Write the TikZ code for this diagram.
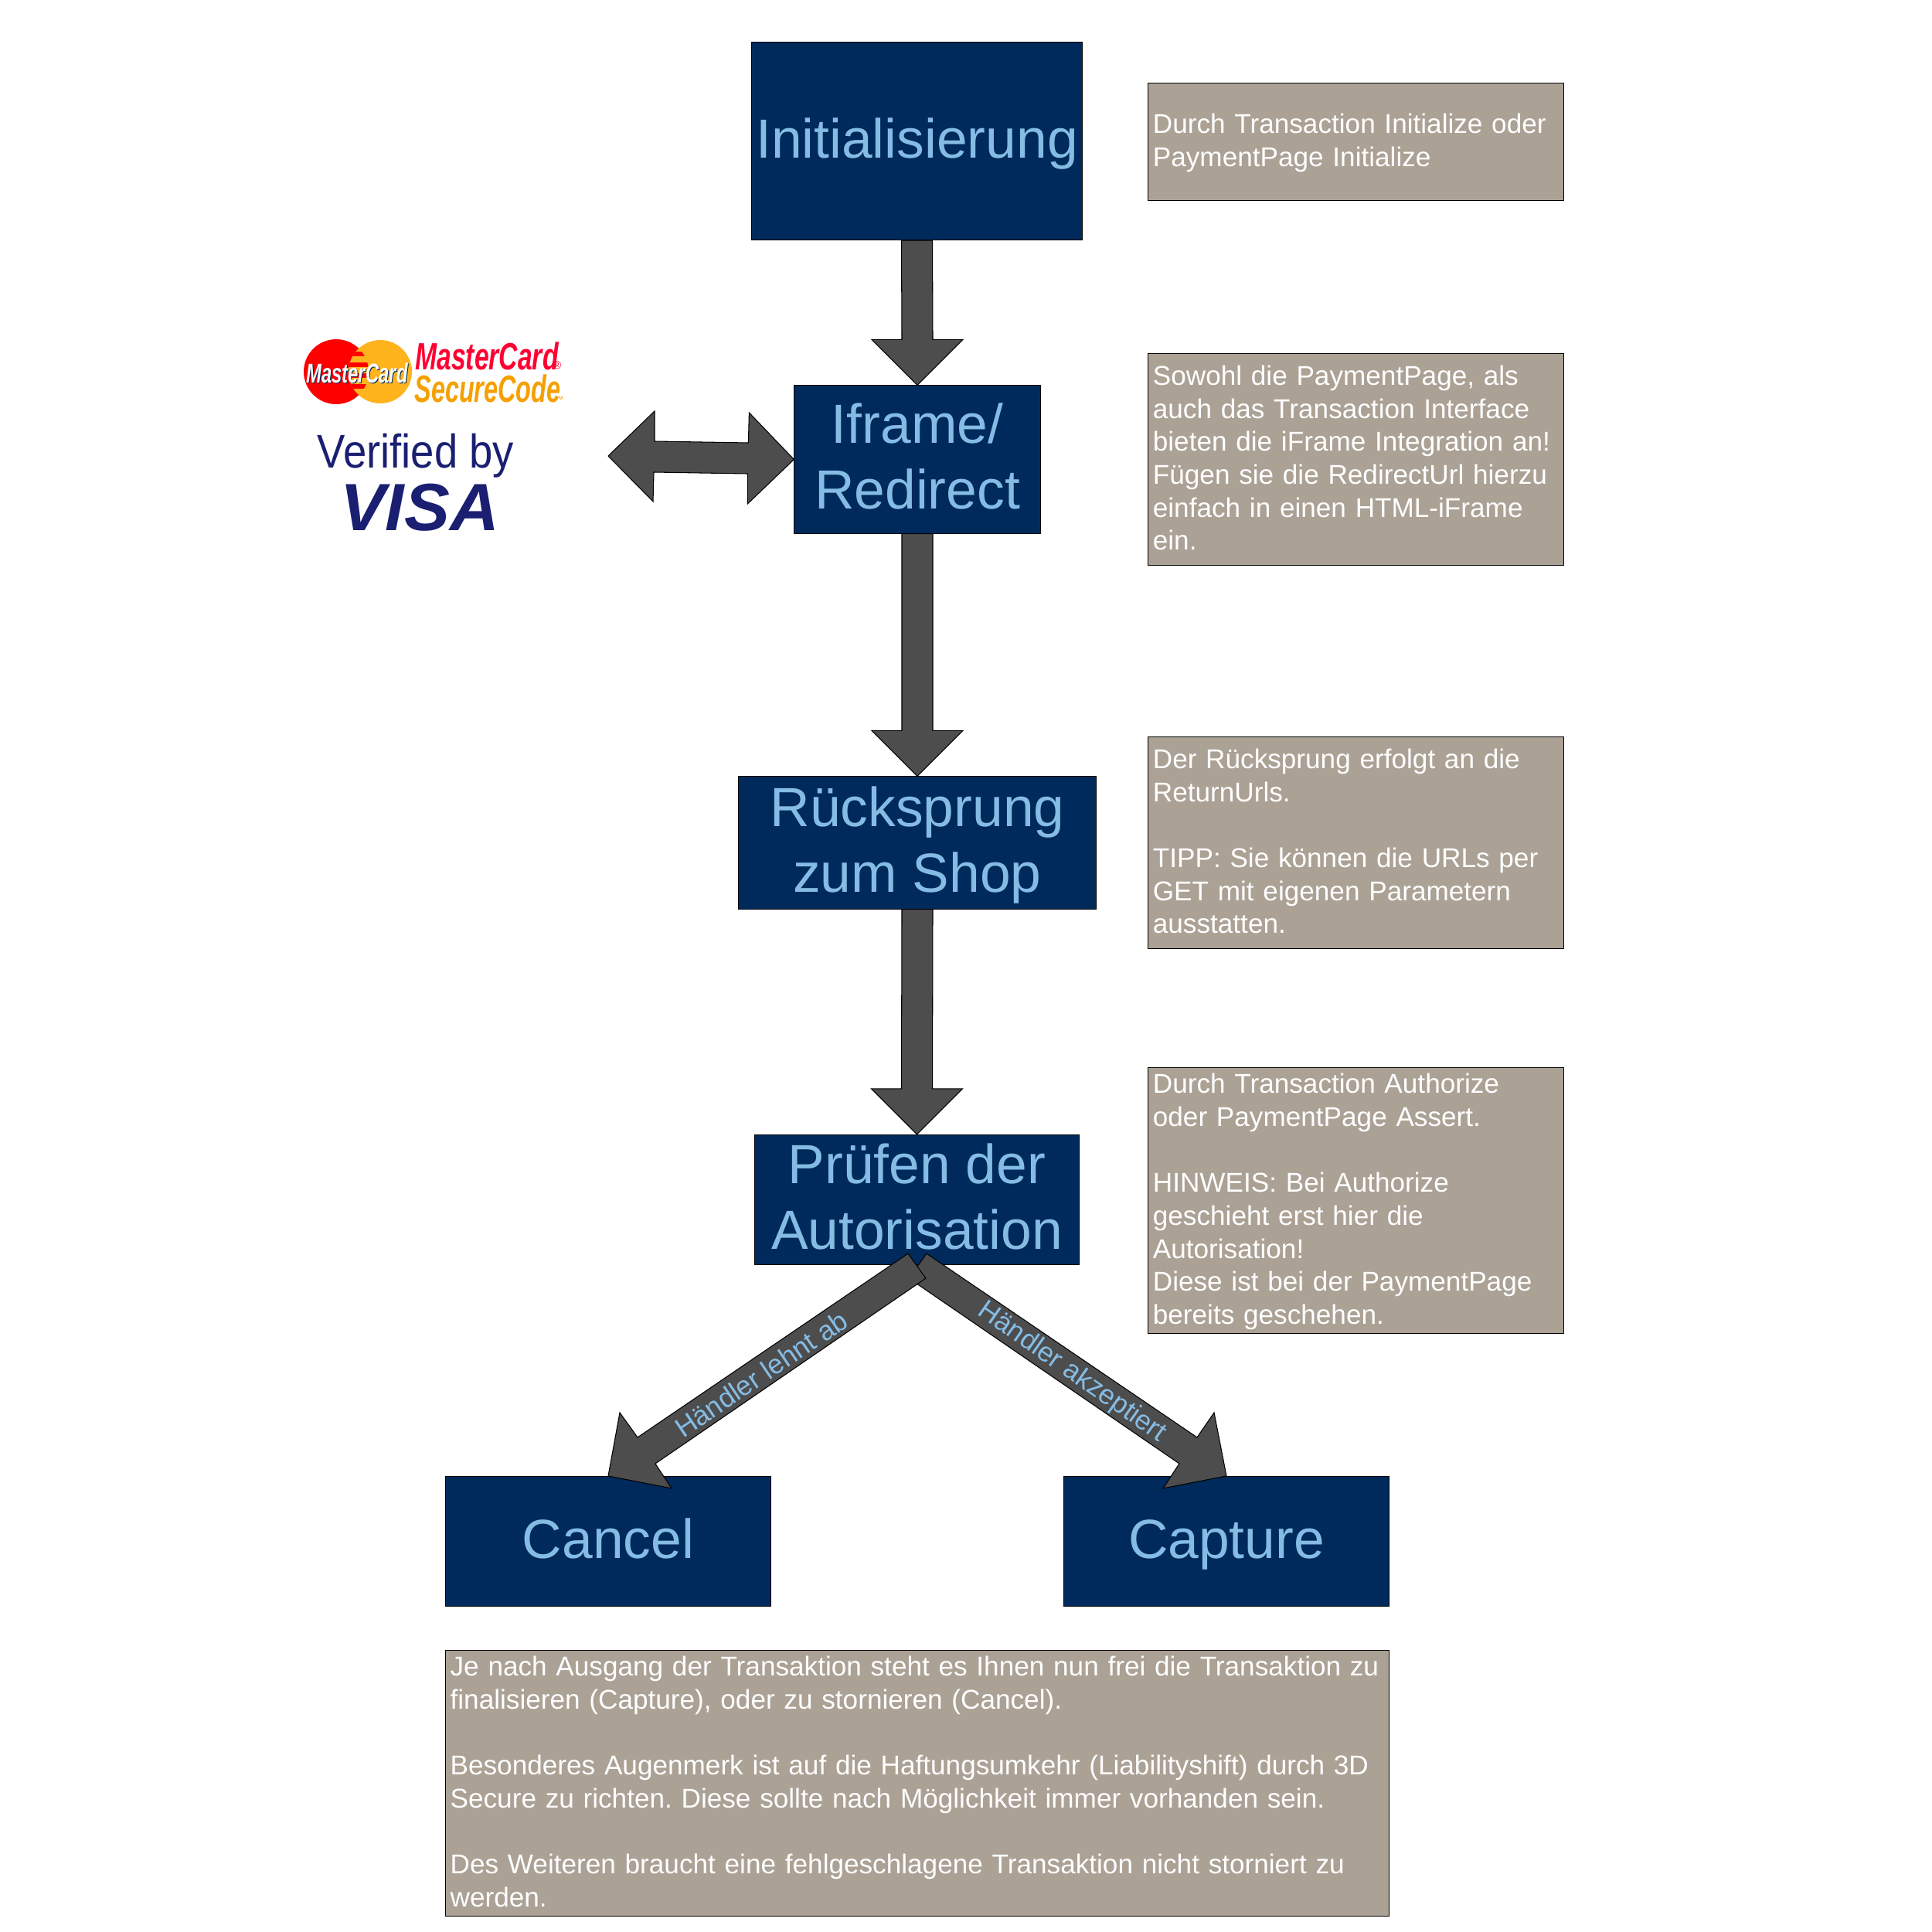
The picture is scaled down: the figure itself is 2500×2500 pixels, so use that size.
\documentclass[tikz,border=0pt]{standalone}
\usepackage{fontspec}
\setmainfont{Liberation Sans}
\usetikzlibrary{calc}
\frenchspacing

\definecolor{stepblue}{HTML}{002A5C}
\definecolor{steptext}{HTML}{85BCE4}
\definecolor{notegray}{HTML}{ABA195}
\definecolor{flowgray}{HTML}{4D4D4D}
\definecolor{mcred}{HTML}{FF0000}
\definecolor{mcyellow}{HTML}{FFB41E}
\definecolor{mcorange}{HTML}{F5A000}
\definecolor{mcword}{HTML}{FF0033}
\definecolor{visablue}{HTML}{1A1F71}

\newcommand{\stepstrut}{\rule[-.21em]{0pt}{1.03em}}
\newcommand{\notestrut}{\rule[-.21em]{0pt}{1.02em}}

\begin{document}
\begin{tikzpicture}[
        x=0.01cm, y=-0.01cm,
        stepbox/.style={
            % The shape:
            rectangle,
            inner sep=0pt,
            % The border
            draw=black,
            line width=0.3pt,
            % The filling
            fill=stepblue,
            % Font
            text=steptext,
            align=center,
            font=\fontsize{20.3}{24.2}\selectfont
        },
        notebox/.style={
            % The shape:
            rectangle,
            inner ysep=0pt,
            inner xsep=0.06cm,
            % The size:
            minimum width=5.37cm,
            text width=5.25cm,
            % The border
            draw=black,
            line width=0.3pt,
            % The filling
            fill=notegray,
            % Font
            text=white,
            align=left,
            font=\fontsize{10}{12.13}\selectfont,
            execute at begin node=\notestrut,
            execute at end node=\notestrut
        },
        flow/.style={
            draw=black,
            line width=0.3pt,
            fill=flowgray
        },
        flowtext/.style={
            text=steptext,
            inner sep=0pt,
            font=\fontsize{10.1}{12.2}\selectfont
        },
        logotext/.style={
            inner sep=0pt,
            font=\fontsize{14}{14}\bfseries\itshape\selectfont
        }]

        \useasboundingbox (0,0) rectangle (2500,2500);

        % The steps
        \node [stepbox, minimum width=4.28cm, minimum height=2.56cm] (init) at (1186.5,182.5) {\stepstrut Initialisierung};
        \node [stepbox, minimum width=3.18cm, minimum height=1.91cm] (iframe) at (1187,594.5) {\stepstrut Iframe/\\\stepstrut Redirect};
        \node [stepbox, minimum width=4.62cm, minimum height=1.71cm] (shop) at (1187,1090.5) {\stepstrut Rücksprung\\\stepstrut zum Shop};
        \node [stepbox, minimum width=4.20cm, minimum height=1.68cm] (autor) at (1186.5,1552.5) {\stepstrut Prüfen der\\\stepstrut Autorisation};
        \node [stepbox, minimum width=4.20cm, minimum height=1.68cm] (cancel) at (787,1994.5) {\stepstrut Cancel};
        \node [stepbox, minimum width=4.20cm, minimum height=1.68cm] (capture) at (1587,1994.5) {\stepstrut Capture};

        % The notes
        \node [notebox, minimum height=1.51cm] (noteinit) at (1754.5,183.5) {Durch Transaction Initialize oder\\PaymentPage Initialize};
        \node [notebox, minimum height=2.73cm] (noteiframe) at (1754.5,594.5) {Sowohl die PaymentPage, als\\auch das Transaction Interface\\bieten die iFrame Integration an!\\Fügen sie die RedirectUrl hierzu\\einfach in einen HTML-iFrame\\ein.};
        \node [notebox, minimum height=2.73cm] (noteshop) at (1754.5,1090.5) {Der Rücksprung erfolgt an die\\ReturnUrls.\\~\\TIPP: Sie können die URLs per\\GET mit eigenen Parametern\\ausstatten.};
        \node [notebox, minimum height=3.43cm] (noteautor) at (1754.5,1553.5) {Durch Transaction Authorize\\oder PaymentPage Assert.\\~\\HINWEIS: Bei Authorize\\geschieht erst hier die\\Autorisation!\\Diese ist bei der PaymentPage\\bereits geschehen.};
        \node [notebox, minimum width=12.20cm, text width=12.08cm, minimum height=3.43cm] (noteend) at (1187,2307.5) {Je nach Ausgang der Transaktion steht es Ihnen nun frei die Transaktion zu\\finalisieren (Capture), oder zu stornieren (Cancel).\\~\\Besonderes Augenmerk ist auf die Haftungsumkehr (Liabilityshift) durch 3D\\Secure zu richten. Diese sollte nach Möglichkeit immer vorhanden sein.\\~\\Des Weiteren braucht eine fehlgeschlagene Transaktion nicht storniert zu\\werden.};

        % The straight arrows
        \foreach \from/\to in {init/iframe, iframe/shop, shop/autor}
        {
            \draw [flow] ($(\from.south)+(-20,0)$) -- ($(\to.north)+(-20,-59)$) -- ($(\to.north)+(-59,-59)$)
                -- (\to.north) -- ($(\to.north)+(59,-59)$) -- ($(\to.north)+(20,-59)$) -- ($(\from.south)+(20,0)$) -- cycle;
        }

        % The arrow to the card logos
        \coordinate (logos) at (787,590);
        \draw [flow] (logos) -- ($(logos)+(60,-58)$) -- ($(logos)+(60,-19)$) -- ($(iframe.west)+(-59,-21.5)$) -- ($(iframe.west)+(-58,-60.5)$)
            -- (iframe.west) -- ($(iframe.west)+(-60,57.5)$) -- ($(iframe.west)+(-60,18.5)$) -- ($(logos)+(59,21)$) -- ($(logos)+(58,59)$) -- cycle;

        % The two outcomes
        \draw [flow] ($(autor.south)+(12.5,-15)$) -- ($(capture.north)+(-38,-50)$) -- ($(capture.north)+(-16,-82)$) -- (capture.north)
            -- ($(capture.north)+(-82,16)$) -- ($(capture.north)+(-61,-16)$) -- ($(autor.south)+(-10.5,17)$) -- cycle;
        \draw [flow] ($(autor.south)+(-11.5,-15)$) -- ($(cancel.north)+(38,-50)$) -- ($(cancel.north)+(15,-82)$) -- (cancel.north)
            -- ($(cancel.north)+(82,16)$) -- ($(cancel.north)+(61,-16)$) -- ($(autor.south)+(11.5,17)$) -- cycle;
        \node [flowtext, rotate=34] (lehnt) at (985,1778) {Händler lehnt ab};
        \node [flowtext, rotate=-35] (akzept) at (1387,1776) {Händler akzeptiert};

        % MasterCard SecureCode
        \fill [mcred] (435,481) circle (42);
        \fill [mcyellow] (492,481) circle (41);
        \begin{scope}
            \clip (435,481) circle (42);
            \clip (492,481) circle (41);
            \foreach \y in {455,469,...,511}
            {
                \fill [mcred] (440,\y) rectangle (490,\y+6);
            }
        \end{scope}
        \node [logotext, text=stepblue, xscale=0.68, font=\fontsize{10}{10}\bfseries\itshape\selectfont] (mcshadow) at (463,484) {MasterCard};
        \node [logotext, text=white, xscale=0.68, font=\fontsize{10}{10}\bfseries\itshape\selectfont] (mcinner) at (462,482.5) {MasterCard};
        \node [logotext, text=mcword, xscale=0.684] (mcword) at (630,461) {MasterCard};
        \node [logotext, text=mcorange, xscale=0.658] (mcsecure) at (631,503) {SecureCode};
        \node [text=mcword, inner sep=0pt, font=\fontsize{4}{4}\selectfont] (mcmark) at (721,473) {®};
        \node [text=mcorange, inner sep=0pt, font=\fontsize{3}{3}\selectfont] (mctrade) at (724,517) {™};

        % Verified by Visa
        \node [text=visablue, inner sep=0pt, xscale=0.89, font=\fontsize{17.4}{17.4}\selectfont] (verified) at (538,590) {Verified by};
        \node [logotext, text=visablue, xscale=1.02, font=\fontsize{24.6}{24.6}\bfseries\itshape\selectfont] (visa) at (543,657) {VISA};

    \end{tikzpicture}
\end{document}
